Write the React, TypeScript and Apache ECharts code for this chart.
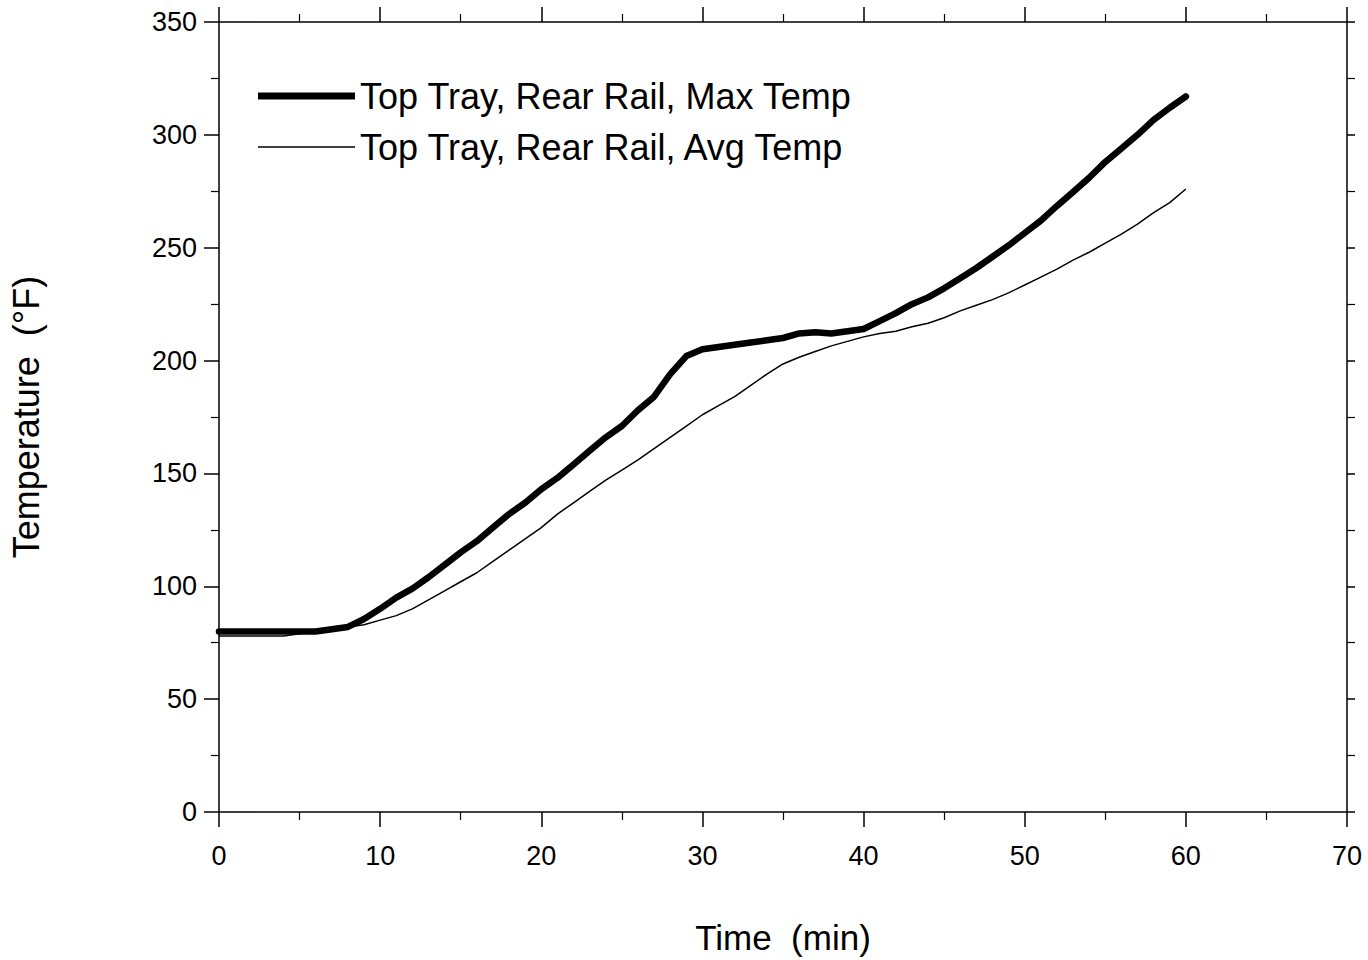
import React, { useEffect, useRef } from "react";
import * as echarts from "echarts";

const timeMin = [
  0, 1, 2, 3, 4, 5, 6, 7, 8, 9, 10, 11, 12, 13, 14, 15, 16, 17, 18, 19, 20,
  21, 22, 23, 24, 25, 26, 27, 28, 29, 30, 31, 32, 33, 34, 35, 36, 37, 38, 39, 40,
  41, 42, 43, 44, 45, 46, 47, 48, 49, 50, 51, 52, 53, 54, 55, 56, 57, 58, 59, 60,
];

const maxTemp = [
  80, 80, 80, 80, 80, 80, 80, 81, 82, 85.5, 90, 95, 99, 104, 109.5, 115, 120, 126, 132, 137, 143,
  148, 154, 160, 166, 171, 178, 184, 194, 202, 205, 206, 207, 208, 209, 210, 212, 212.5, 212, 213, 214,
  217.5, 221, 225, 228, 232, 236.5, 241, 246, 251, 256.5, 262, 268.5, 274.7, 281, 288, 294, 300, 306.6, 312, 317,
];

const avgTemp = [
  78, 78, 78, 78, 78, 79, 80, 80.5, 82, 83, 85, 87, 90, 94, 98, 102, 106, 111, 116, 121, 126,
  132, 137, 142, 147, 151.5, 156, 161, 166, 171, 176, 180, 184, 189, 194, 198.5, 201.5, 204, 206.5, 208.5, 210.5,
  212, 213, 215, 216.5, 219, 222, 224.5, 227, 230, 233.5, 237, 240.5, 244.5, 248, 252, 256, 260.5, 265.5, 270, 276,
];

const seriesNames = ["Top Tray, Rear Rail, Max Temp", "Top Tray, Rear Rail, Avg Temp"];

const FONT = "'Liberation Sans', Arial, sans-serif";

export default function App() {
  const ref = useRef<HTMLDivElement>(null);

  useEffect(() => {
    document.body.style.margin = "0";
    const chart = echarts.init(ref.current!, undefined, { renderer: "svg" });
    const axisLine = { show: true, onZero: false, lineStyle: { color: "#000", width: 1.5 } };
    const majorTick = { show: true, inside: false, length: 15, lineStyle: { color: "#000", width: 1.5 } };
    const minorTick = { show: true, splitNumber: 2, length: 8, lineStyle: { color: "#000", width: 1.2 } };
    const labelStyle = { color: "#000", fontSize: 27, fontFamily: FONT };
    chart.setOption({
      animation: false,
      backgroundColor: "#fff",
      grid: { left: 218, right: 21, top: 22, bottom: 148, containLabel: false },
      legend: {
        show: true,
        orient: "vertical",
        left: 253,
        top: 73,
        itemWidth: 97,
        itemHeight: 7,
        itemGap: 15,
        symbolKeepAspect: true,
        textStyle: { color: "#000", fontSize: 36, fontFamily: FONT },
        data: [
          { name: seriesNames[0], icon: "path://M0,0H97V7H0Z", itemStyle: { color: "#000" } },
          { name: seriesNames[1], icon: "path://M0,0H97V1.6H0Z", itemStyle: { color: "#000" } },
        ],
      },
      xAxis: [
        {
          type: "value",
          position: "bottom",
          min: 0,
          max: 70,
          interval: 10,
          axisLine,
          axisTick: majorTick,
          minorTick,
          splitLine: { show: false },
          axisLabel: { ...labelStyle, margin: 30 },
          name: "Time  (min)",
          nameLocation: "middle",
          nameGap: 108,
          nameTextStyle: { color: "#000", fontSize: 35, fontFamily: FONT },
        },
        {
          type: "value",
          position: "top",
          min: 0,
          max: 70,
          interval: 10,
          axisLine,
          axisTick: majorTick,
          minorTick,
          splitLine: { show: false },
          axisLabel: { show: false },
        },
      ],
      yAxis: [
        {
          type: "value",
          position: "left",
          min: 0,
          max: 350,
          interval: 50,
          axisLine,
          axisTick: majorTick,
          minorTick,
          splitLine: { show: false },
          axisLabel: { ...labelStyle, margin: 22 },
          name: "Temperature  (°F)",
          nameLocation: "middle",
          nameGap: 175,
          nameTextStyle: { color: "#000", fontSize: 36, fontFamily: FONT },
        },
        {
          type: "value",
          position: "right",
          min: 0,
          max: 350,
          interval: 50,
          axisLine,
          axisTick: { ...majorTick, length: 8 },
          minorTick,
          splitLine: { show: false },
          axisLabel: { show: false },
        },
      ],
      series: [
        {
          name: seriesNames[0],
          type: "line",
          xAxisIndex: 0,
          yAxisIndex: 0,
          symbol: "none",
          lineStyle: { color: "#000", width: 6.5, cap: "round", join: "round" },
          itemStyle: { color: "#000" },
          data: timeMin.map((t, i) => [t, maxTemp[i]]),
        },
        {
          name: seriesNames[1],
          type: "line",
          xAxisIndex: 0,
          yAxisIndex: 0,
          symbol: "none",
          lineStyle: { color: "#000", width: 1.5 },
          itemStyle: { color: "#000" },
          data: timeMin.map((t, i) => [t, avgTemp[i]]),
        },
      ],
    });
    return () => chart.dispose();
  }, []);

  return <div ref={ref} style={{ width: 1368, height: 960 }} />;
}
